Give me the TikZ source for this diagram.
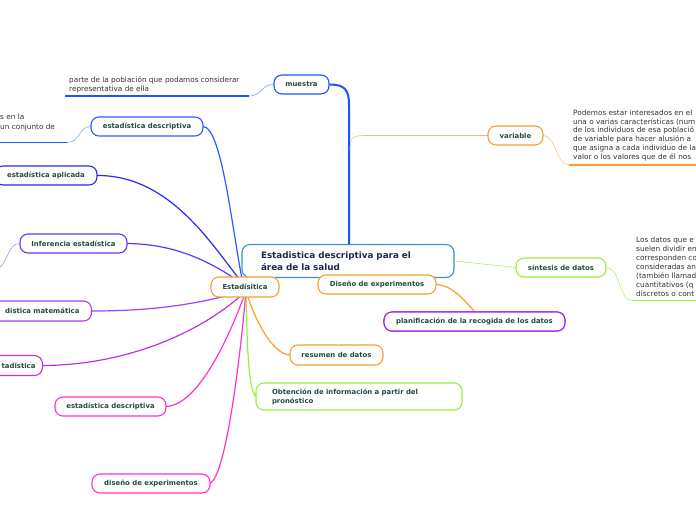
\documentclass[tikz,border=0pt]{standalone}
\usepackage{fontspec}
\setmainfont{DejaVu Sans}
\definecolor{labc}{HTML}{1E4D3C}
\definecolor{cenc}{HTML}{1B2B4B}
\definecolor{notec}{HTML}{333333}
\definecolor{cblue}{HTML}{3A8FD8}
\definecolor{bmu}{HTML}{1A53FF}
\definecolor{bed}{HTML}{2B5CFF}
\definecolor{bapl}{HTML}{2A2AEE}
\definecolor{binf}{HTML}{6633FF}
\definecolor{bmat}{HTML}{A040F0}
\definecolor{btad}{HTML}{C030E0}
\definecolor{bmag}{HTML}{FF30D0}
\definecolor{bora}{HTML}{F5A030}
\definecolor{bgrn}{HTML}{99EE33}
\definecolor{bpur}{HTML}{A020F0}
\begin{document}
\begin{tikzpicture}[x=1pt,y=-1pt,
  topic/.style={draw, line width=1.1pt, rounded corners=8pt, fill=white,
    font={\fontsize{6.9}{8}\selectfont\bfseries}, text=labc, inner sep=0pt, minimum height=19pt},
  conn/.style={line width=1.2pt},
  thinc/.style={line width=0.6pt},
  ul/.style={line width=1.6pt},
  note/.style={font={\fontsize{7.3}{9.3}\selectfont}, text=notec, align=left, inner sep=0pt, anchor=north west}
]
\useasboundingbox (0,0) rectangle (696,520);

\coordinate (hubT) at (243,284);
\coordinate (hubB) at (246,291);

\coordinate (mu1) at (65,96);
\coordinate (mu2) at (249,96);
\coordinate (ed1) at (0,142.5);
\coordinate (ed2) at (67,142.5);
\coordinate (va1) at (569,165);
\coordinate (va2) at (700,165);
\coordinate (si1) at (632,300.5);
\coordinate (si2) at (700,300.5);
\coordinate (infx) at (-1,268);
\coordinate (vtop) at (350,150);

% ---------- central ----------
\node[topic, draw=cblue, minimum width=212pt, minimum height=33pt, text width=174pt, inner xsep=19pt, align=left,
  font={\fontsize{8.8}{11.8}\selectfont\bfseries}, text=cenc] (central) at (348,261)
  {Estadistica descriptiva para el\\área de la salud};

% ---------- connectors to Estadísitica ----------
\draw[conn, draw=bed] (203,126.5) .. controls (222,127) and (232,230) .. (hubT);
\draw[conn, draw=bapl] (97,175.5) .. controls (170,175) and (212,245) .. (hubT);
\draw[conn, draw=binf] (127,243.5) .. controls (180,244) and (215,265) .. (hubT);
\draw[conn, draw=bmat] (92,311) .. controls (170,311) and (210,300) .. (hubB);
\draw[conn, draw=btad] (43,365.5) .. controls (130,365) and (205,330) .. (hubB);
\draw[conn, draw=bmag] (166,406.5) .. controls (198,405) and (228,340) .. (hubB);
\draw[conn, draw=bmag] (210,483.5) .. controls (226,475) and (240,360) .. (hubB);
\draw[conn, draw=bora] (290,355) .. controls (272,354) and (255,320) .. (hubB);
\draw[conn, draw=bgrn] (256,396.5) .. controls (248,390) and (247,340) .. (hubB);

\node[topic, draw=bora, minimum width=68pt, minimum height=20pt] (est) at (245,287) {Estadísitica};

\node[topic, draw=bmu, minimum width=55pt] (muestra) at (301.5,84.5) {muestra};
\node[topic, draw=bed, minimum width=112pt] (edblue) at (147,126.5) {estadística descriptiva};
\node[topic, draw=bapl, minimum width=102pt] (apl) at (46,175.5) {estadística aplicada};
\node[topic, draw=binf, minimum width=107pt] (inf) at (73.5,243.5) {Inferencia estadística};
\node[topic, draw=bmat, minimum height=20pt, anchor=east, text width=150pt, align=right, inner xsep=12pt] (mat) at (92,311) {distica matemática};
\node[topic, draw=btad, minimum height=20pt, anchor=east, text width=80pt, align=right, inner xsep=7pt] (tad) at (43,365.5) {tadistica};
\node[topic, draw=bmag, minimum width=111pt] (edmag) at (110.5,406.5) {estadística descriptiva};
\node[topic, draw=bmag, minimum width=118pt] (dexp) at (151,483.5) {diseño de experimentos};
\node[topic, draw=bora, minimum width=93pt, minimum height=20pt] (res) at (336.5,355) {resumen de datos};
\node[topic, draw=bgrn, minimum width=206pt, minimum height=27pt, text width=174pt, inner xsep=16pt, align=left,
  font={\fontsize{6.9}{9}\selectfont\bfseries}] (obt) at (359,396.5)
  {Obtención de información a partir del\\pronóstico};

% muestra to central
\draw[line width=2pt, draw=bmu] (muestra.east) .. controls (345,84.5) and (349,90) .. (349,105) -- (349,244);
% variable
\draw[thinc, draw=bora!70] (vtop) .. controls (350,138) and (352,135.5) .. (365,135.5) -- (488,135.5);
% sintesis
\draw[thinc, draw=bgrn!80] (central.east) -- (516,267.5);

\node[topic, draw=bora, minimum width=118pt] (dis) at (377,284.5) {Diseño de experimentos};
\node[topic, draw=bpur, minimum width=181pt] (plan) at (474.5,321.5) {planificación de la recogida de los datos};
\draw[conn, draw=bora] (dis.east) .. controls (452,285) and (464,300) .. (plan.north);
\node[topic, draw=bpur, minimum width=181pt] at (474.5,321.5) {planificación de la recogida de los datos};

\node[topic, draw=bora, minimum width=55pt] (var) at (515.5,135.5) {variable};
\node[topic, draw=bgrn, minimum width=90pt] (sin) at (561,267.5) {síntesis de datos};

% ---------- notes ----------
\node[note] (nmu) at (69,76) {parte de la población que podamos considerar\\representativa de ella};
\draw[ul, draw=bmu] (mu1) -- (mu2);
\draw[thinc, draw=bmu!55] (mu2) .. controls (262,96) and (261,84.5) .. (muestra.west);

\node[note] (ned) at (0,114) {s en la\\un conjunto de};
\draw[ul, draw=bed] (ed1) -- (ed2);
\draw[thinc, draw=bed!55] (ed2) .. controls (80,142.5) and (79,126.5) .. (edblue.west);

\draw[thinc, draw=binf!55] (inf.west) .. controls (8,243.5) and (8,262) .. (infx);

\node[note, font={\fontsize{7.3}{8.8}\selectfont}] (nvar) at (573,109.5) {Podemos estar interesados en el\\una o varias características (num\\de los individuos de esa població\\de variable para hacer alusión a\\que asigna a cada individuo de la\\valor o los valores que de él nos};
\draw[ul, draw=bora] (va1) -- (va2);
\draw[thinc, draw=bora!60] (var.east) .. controls (556,135.5) and (556,165) .. (va1);

\node[note, font={\fontsize{7.3}{9}\selectfont}] (nsin) at (636,236.5) {Los datos que e\\suelen dividir en\\corresponden co\\consideradas an\\(también llamad\\cuantitativos (q\\discretos o cont};
\draw[ul, draw=bgrn] (si1) -- (si2);
\draw[thinc, draw=bgrn!70] (sin.east) .. controls (620,267.5) and (619,300.5) .. (si1);

\end{tikzpicture}
\end{document}
